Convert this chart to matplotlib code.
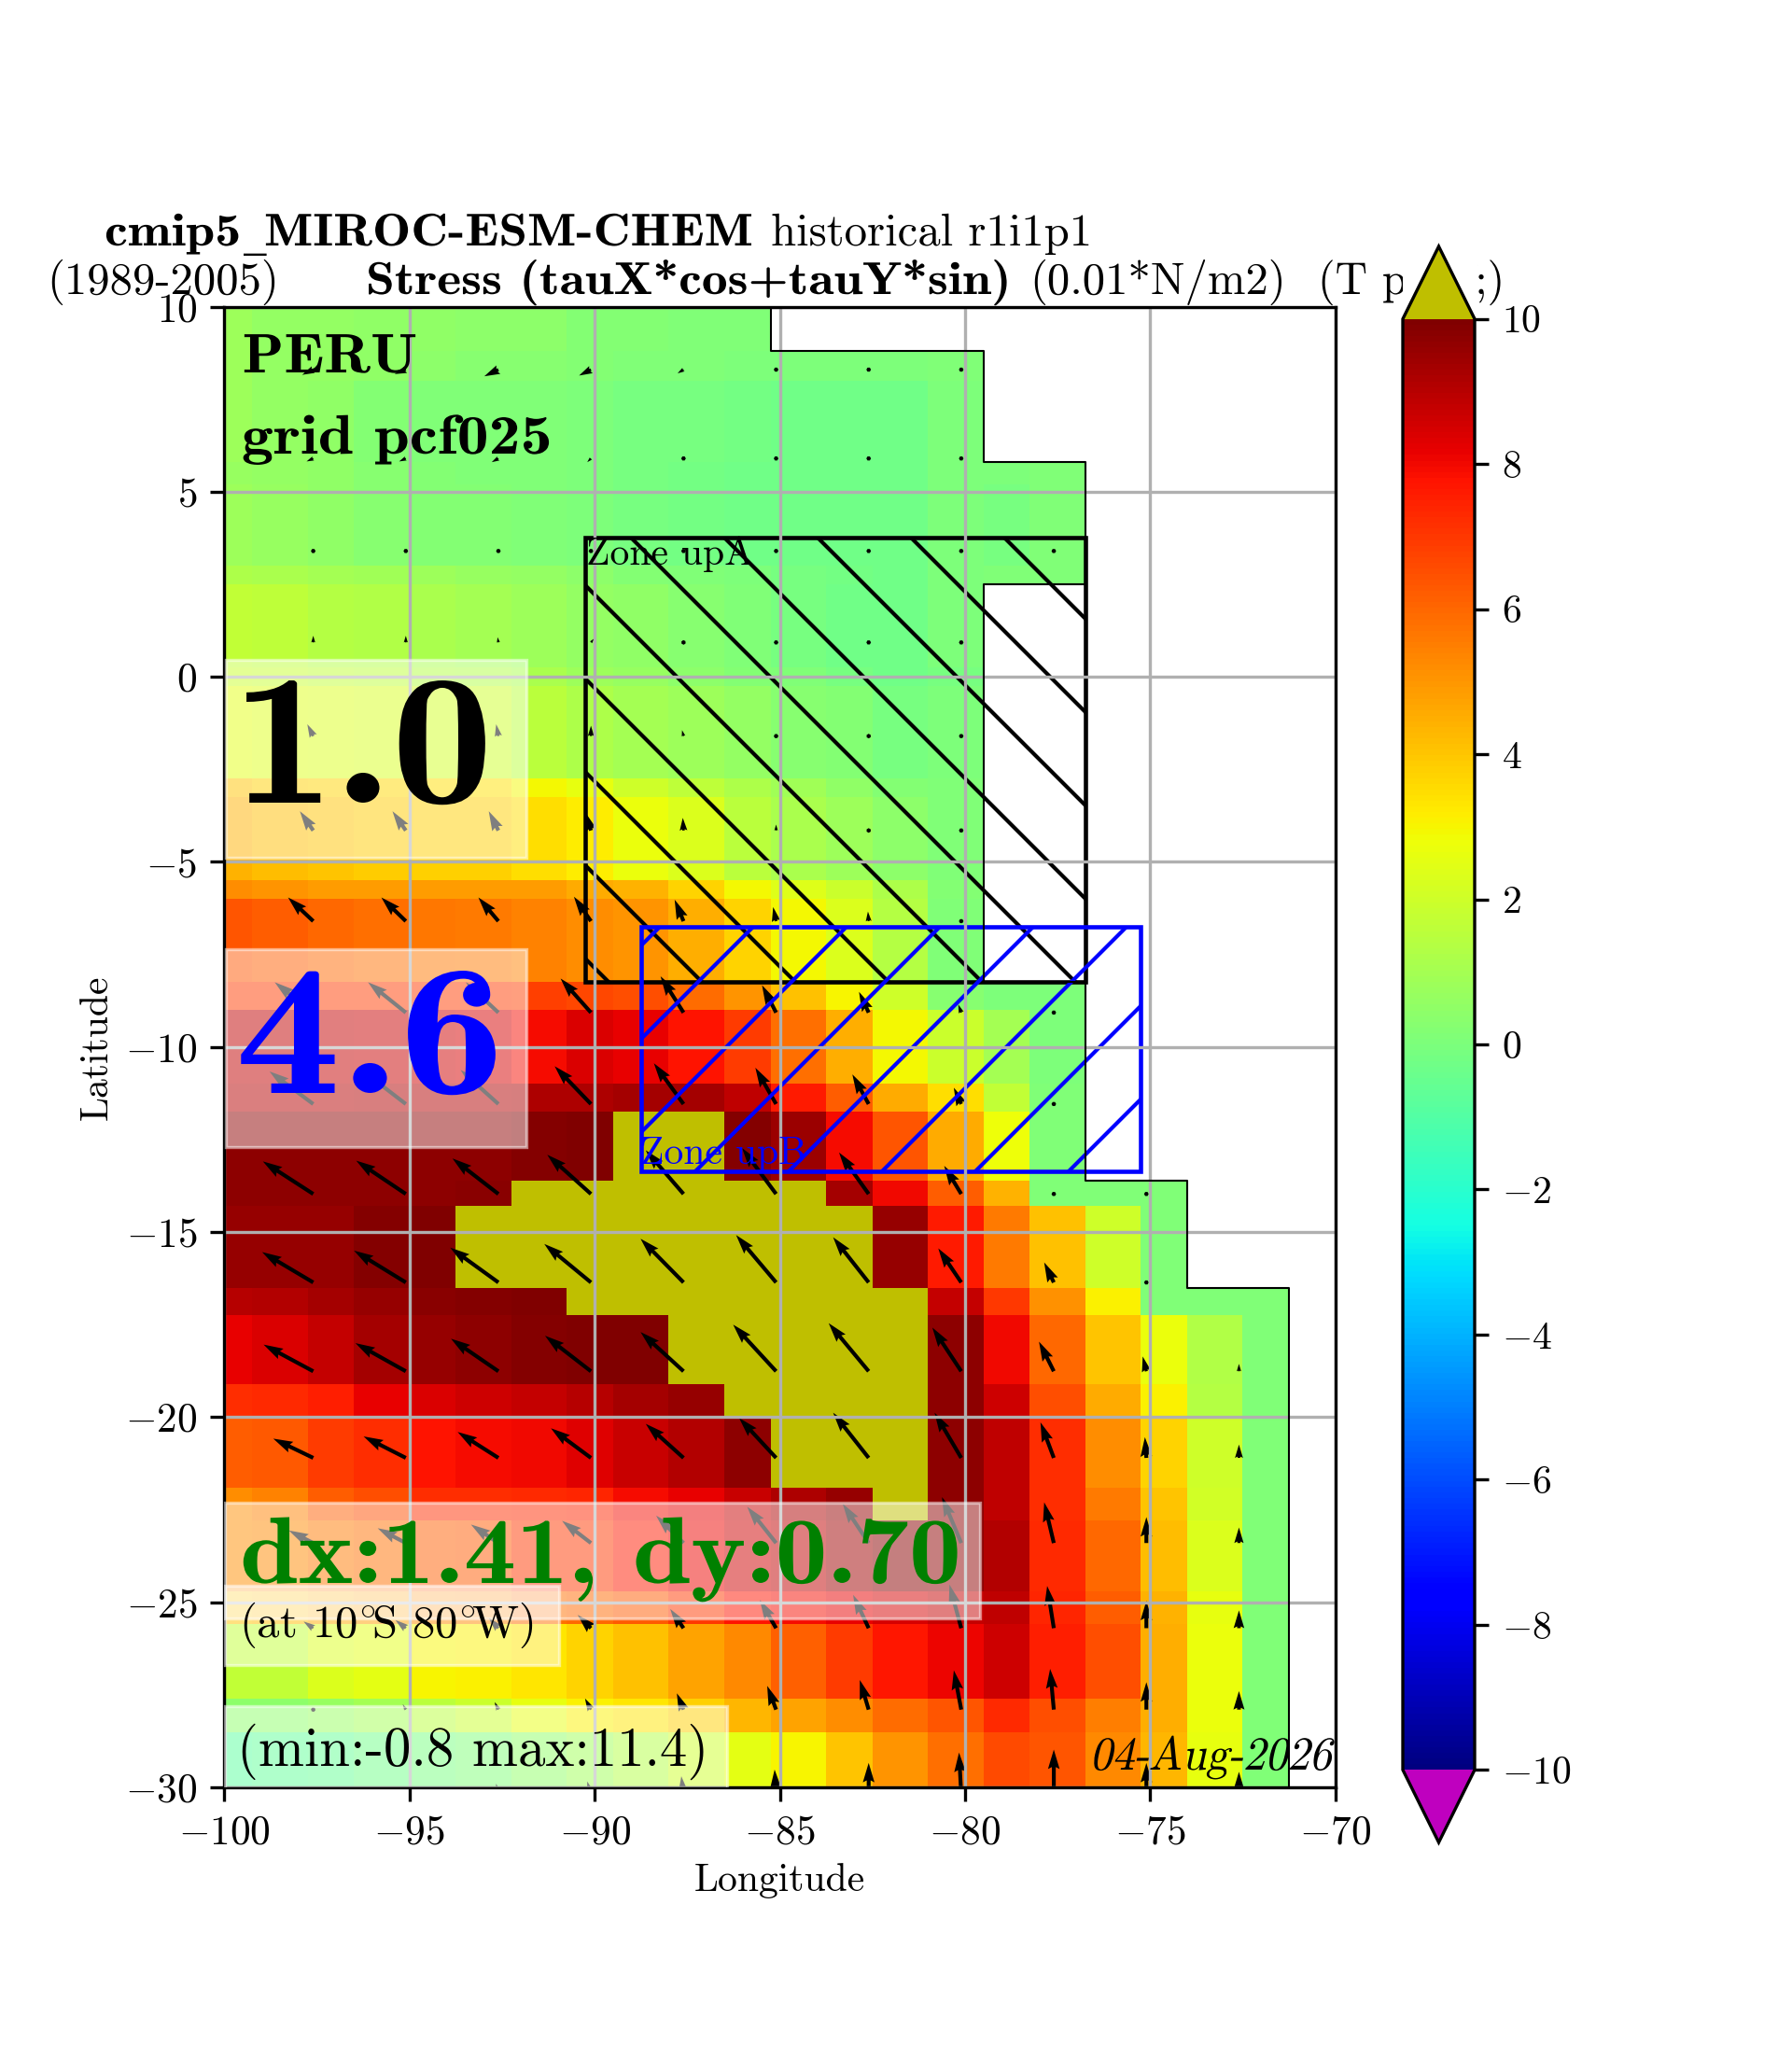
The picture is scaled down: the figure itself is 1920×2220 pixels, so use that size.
import numpy as np
import matplotlib
matplotlib.use('Agg')
import matplotlib.pyplot as plt
from matplotlib.patches import Rectangle
from matplotlib.patheffects import AbstractPathEffect
from matplotlib.transforms import Affine2D

# 600 dpi keeps the hatch spacing at 100 px, so every size is in points at that dpi
plt.rcParams['font.family'] = ['cmr10', 'DejaVu Serif']
plt.rcParams['mathtext.fontset'] = 'cm'
plt.rcParams['axes.formatter.use_mathtext'] = True
plt.rcParams['font.size'] = 5
plt.rcParams['axes.linewidth'] = 0.4
plt.rcParams['grid.linewidth'] = 0.4
plt.rcParams['xtick.major.width'] = 0.4
plt.rcParams['ytick.major.width'] = 0.4
plt.rcParams['xtick.major.size'] = 1.75
plt.rcParams['ytick.major.size'] = 1.75
plt.rcParams['xtick.major.pad'] = 1.75
plt.rcParams['ytick.major.pad'] = 1.75
plt.rcParams['xtick.labelsize'] = 5.2
plt.rcParams['ytick.labelsize'] = 5.2
plt.rcParams['hatch.linewidth'] = 0.5

n = np.nan

lon_edges = [-100, -99.25, -97.75, -96.5, -95, -93.75, -92.25, -90.75, -89.5, -88, -86.5,
             -85.25, -83.75, -82.5, -81, -79.5, -78.25, -76.75, -75.25, -74, -72.5, -71.25]
lat_edges = [10, 8.8, 8, 5.8, 5.2, 3, 2.5, 0.25, -0.25, -2.75, -3.25, -5.5, -6, -8.25, -9, -11,
             -11.75, -13.6, -14.3, -16.5, -17.25, -19.1, -20, -21.9, -22.8, -24.7, -25.6, -27.6,
             -28.5, -30]

# stress, north to south, one row per latitude band
stress = [
    [.8, .6, .6, .5, .5, .4, .4, .2, .2, .1, .1, n, n, n, n, n, n, n, n, n, n],
    [.8, .6, .6, .5, .4, .3, .3, .2, .1, .1, 0, 0, 0, 0, .1, n, n, n, n, n, n],
    [.8, .6, .5, .2, .1, .1, .1, 0, -.1, -.1, -.2, -.3, -.3, -.3, 0, n, n, n, n, n, n],
    [.7, .6, .5, .3, .2, .1, .1, 0, -.1, -.2, -.3, -.3, -.3, -.3, 0, 0, .1, n, n, n, n],
    [.8, .7, .5, .3, .2, .2, .1, 0, -.1, -.2, -.3, -.3, -.3, -.3, 0, -.1, .1, n, n, n, n],
    [1.2, 1.1, 1, .9, .8, .7, .6, .4, .2, .1, 0, -.1, -.2, -.3, 0, .1, .1, n, n, n, n],
    [1.7, 1.6, 1.4, 1.3, 1.1, 1, .8, .6, .5, .3, .1, -.1, -.3, -.3, 0, n, n, n, n, n, n],
    [1.9, 1.8, 1.7, 1.6, 1.4, 1.3, 1.1, .8, .7, .4, .2, .1, -.1, -.3, -.1, n, n, n, n, n, n],
    [2.5, 2.4, 2.3, 2.2, 2.1, 2, 1.5, 1.2, 1, .8, .6, .3, .2, -.1, 0, n, n, n, n, n, n],
    [4, 3.8, 3.7, 3.6, 3.5, 3.4, 2.9, 2.6, 2, 1.6, 1.2, .9, .5, .2, .1, n, n, n, n, n, n],
    [4.4, 4.2, 4, 3.9, 3.8, 3.8, 3.5, 3.2, 2.7, 2.3, 1.5, 1.1, .8, .4, .1, n, n, n, n, n, n],
    [5.2, 5, 4.9, 4.9, 4.9, 4.9, 4.9, 4.6, 4.4, 3.7, 2.9, 2.4, 1.9, 1.2, .2, n, n, n, n, n, n],
    [6.4, 6.2, 6, 5.8, 5.7, 5.6, 5.4, 5.2, 5, 4.5, 3.7, 2.9, 2.3, 1.4, .1, n, n, n, n, n, n],
    [6.9, 6.9, 6.9, 6.9, 6.9, 6.9, 6.8, 6.7, 6.5, 5.9, 5, 4.1, 3, 2, .3, 0, 0, n, n, n, n],
    [8.9, 8.9, 8.8, 8.7, 8.6, 8.5, 7.9, 8.4, 8.2, 7.8, 6.9, 5.8, 4.5, 2.9, 1.9, 1, 0, n, n, n, n],
    [9, 9, 9, 9.1, 9.1, 9.1, 9.2, 9.2, 9.3, 9.3, 8.9, 7.6, 6.2, 4.6, 3.5, 1.7, .1, n, n, n, n],
    [9.7, 9.7, 9.7, 9.7, 9.7, 9.7, 9.9, 10, 10.5, 10.5, 9.9, 9.5, 7.9, 6.4, 4.6, 2.8, .1, n, n, n, n],
    [9.7, 9.7, 9.7, 9.7, 9.7, 9.8, 10.5, 10.5, 10.5, 10.5, 10.5, 10.5, 9.3, 8, 6.2, 4.4, .1, .1, .1, n, n],
    [9.6, 9.6, 9.6, 9.9, 10, 10.5, 10.5, 10.5, 10.5, 10.5, 10.5, 10.5, 10.5, 9.6, 7.6, 5.6, 4.1, 2, .1, n, n],
    [9, 9.1, 9.3, 9.6, 9.8, 9.9, 10, 10.5, 10.5, 10.5, 10.5, 10.5, 10.5, 10.5, 8.8, 7, 5.1, 3.1, .1, .1, .1],
    [8.2, 8.4, 8.8, 9.3, 9.6, 9.7, 9.9, 10, 10, 10.5, 10.5, 10.5, 10.5, 10.5, 9.7, 8, 6, 4, 2.7, 1.3, .1],
    [7.2, 7.3, 7.5, 8.2, 8.4, 8.6, 8.8, 9, 9.3, 9.6, 10.5, 10.5, 10.5, 10.5, 9.7, 8.6, 6.5, 4.6, 3.1, 1.4, .1],
    [6.2, 6.3, 6.9, 7.2, 7.8, 7.9, 8, 8.3, 8.7, 9.1, 9.7, 10.5, 10.5, 10.5, 9.7, 8.9, 7.2, 5.2, 3.7, 2, .1],
    [5.2, 5.4, 6.2, 6.5, 7.2, 7.2, 7.3, 7.4, 7.9, 8.2, 8.7, 9.2, 9.6, 10.5, 9.7, 8.9, 7.2, 5.6, 4, 2.1, .1],
    [5.2, 5.3, 5.6, 5.8, 6.2, 6.3, 7, 7, 7.6, 8.1, 8.6, 8.9, 9.4, 9.8, 9.7, 9.1, 7.3, 6, 4.2, 2.3, .1],
    [4, 4.2, 4.6, 4.8, 5.2, 5.3, 5.8, 6, 6.3, 7, 7.8, 7.9, 8.2, 8.5, 8.8, 8.9, 7.4, 6.2, 4.4, 2.6, .1],
    [1.7, 1.7, 2.3, 2.5, 3, 3.1, 3.3, 3.7, 4.1, 4.7, 5.3, 6.1, 6.9, 7.7, 8.1, 8.6, 7.5, 6.5, 4.5, 2.7, .1],
    [.4, .4, .7, 1, 1.5, 1.9, 2.6, 3.1, 3.3, 3.8, 4.3, 4.7, 5.2, 5.9, 6.4, 7.3, 6.5, 5.5, 4.5, 2.7, .1],
    [-.8, -.7, -.6, -.3, -.1, .1, .5, .9, 1.4, 2, 2.5, 3, 4, 5, 5.8, 6.6, 6.4, 5.3, 4.3, 2.6, .1],
]

# wind stress arrows
arrow_lon = [-97.6, -95.1, -92.6, -90.1, -87.6, -85.1, -82.6, -80.1, -77.6, -75.1, -72.6]
arrow_lat = [8.3, 5.9, 3.4, .93, -1.6, -4.15, -6.6, -9.07, -11.54, -13.97, -16.36, -18.76, -21.1,
             -23.4, -25.7, -27.9, -30.2]
tau_u = [
    [-1.5, -1.5, -1.9, -1.6, -.8, 0, 0, 0, n, n, n],
    [-.9, -.9, -.9, -.5, 0, 0, 0, 0, n, n, n],
    [0, 0, 0, 0, 0, .1, -.2, 0, 0, n, n],
    [0, 0, -.1, .4, .4, .1, -.3, 0, n, n, n],
    [-.8, -.5, -.3, 0, -.2, -.3, -.4, 0, n, n, n],
    [-1.8, -1.8, -1.3, -.8, -.1, 0, 0, 0, n, n, n],
    [-3.4, -3.3, -2.7, -2.3, -1.2, -.4, -.1, 0, n, n, n],
    [-5.2, -5.1, -4.4, -4.1, -3.1, -1.9, -1.3, -.4, 0, n, n],
    [-5.9, -5.7, -5.1, -4.9, -4, -2.8, -2.2, -1, 0, n, n],
    [-6.8, -6.7, -6.2, -5.9, -5.1, -4.6, -4, -2.3, 0, 0, n],
    [-6.9, -7, -6.5, -6.3, -5.8, -5.4, -4.8, -3.1, -1.3, 0, n],
    [-6.7, -6.8, -6.4, -6.2, -5.8, -5.8, -5.4, -3.9, -2, -.5, 0],
    [-5.4, -5.7, -5.5, -5.4, -5.1, -5, -4.8, -3.6, -1.8, -.2, 0],
    [-3.3, -3.8, -3.7, -3.9, -3.7, -3.9, -3.5, -2.6, -1.3, 0, 0],
    [-1.3, -1.4, -1.3, -1.8, -1.8, -2.2, -2.1, -1.6, -.9, 0, 0],
    [-.15, -.4, -.5, -.8, -.9, -1.2, -1.2, -1, -.5, 0, 0],
    [-.1, -.1, -.3, -.5, -.3, -.2, 0, -.3, 0, 0, 0],
]
tau_v = [
    [-.7, -.6, -.9, -.8, -.5, 0, 0, 0, n, n, n],
    [-.4, -.4, -.5, -.5, 0, 0, 0, 0, n, n, n],
    [0, 0, 0, 0, 0, 0, 0, 0, 0, n, n],
    [.9, .9, .7, .5, .3, 0, 0, 0, n, n, n],
    [1.6, 1.6, 1.6, 1.4, .8, .4, .2, 0, n, n, n],
    [2.6, 2.6, 2.6, 2.5, 1.7, .8, .5, 0, n, n, n],
    [3.2, 3.2, 3.2, 3.3, 2.9, 1.9, 1.3, 0, n, n, n],
    [4.1, 4.1, 4.1, 4.6, 4.9, 3.7, 2.8, 1.1, 0, n, n],
    [4.4, 4.4, 4.6, 5.1, 5.5, 4.9, 4, 2.2, 0, n, n],
    [4.4, 4.5, 4.8, 5.3, 5.9, 6.2, 5.6, 3.8, 0, 0, n],
    [4.1, 4.3, 4.7, 5.2, 5.9, 6.4, 6.1, 4.6, 2.7, 0, n],
    [3.6, 3.8, 4.4, 4.8, 5.3, 6.3, 6.5, 5.9, 4, 2, 1],
    [2.6, 2.9, 3.5, 4, 4.6, 5.4, 6.1, 6.1, 4.8, 2.8, 1.8],
    [1.7, 2, 2.5, 3, 3.7, 4.9, 5.3, 6.2, 5.5, 3.5, 2.1],
    [.9, 1.1, 1.4, 1.8, 2.6, 3.8, 4.5, 5.9, 5.7, 3.7, 2.4],
    [.5, .7, 1, 1.5, 2.2, 3.2, 4, 5.3, 5.5, 3.7, 2.5],
    [.3, .5, 1.5, 1.8, 2.5, 3.4, 4.3, 5.7, 6.1, 4.3, 3.1],
]

x_ticks = [-100, -95, -90, -85, -80, -75, -70]
y_ticks = [-30, -25, -20, -15, -10, -5, 0, 5, 10]
cbar_ticks = [-10, -8, -6, -4, -2, 0, 2, 4, 6, 8, 10]

W, H = 1920, 2220
fig = plt.figure(figsize=(3.2, 3.7), dpi=600)


class Warp(AbstractPathEffect):
    # cmb10 is narrower than the wide bold of the original, and there is no slanted roman
    def __init__(self, x0, y0, sx=1.0, shear=0.0):
        super().__init__()
        self.warp = (Affine2D().translate(-x0, -y0)
                     + Affine2D.from_values(sx, 0, shear, 1, 0, 0)
                     + Affine2D().translate(x0, y0))

    def draw_path(self, renderer, gc, tpath, affine, rgbFace=None):
        renderer.draw_path(gc, tpath, affine + self.warp, rgbFace)


def label(x, y, s, size, color='k', family='cmr10', sx=1.0, shear=0.0, ha='left'):
    t = fig.text(x / W, 1 - y / H, s, fontsize=size, color=color, family=family, ha=ha)
    if sx != 1.0 or shear != 0.0:
        t.set_path_effects([Warp(x, H - y, sx, shear)])
    return t


def box(x0, y0, x1, y1):
    return [x0 / W, 1 - y1 / H, (x1 - x0) / W, (y1 - y0) / H]


ax = fig.add_axes(box(240.4, 328.6, 1430.6, 1915))
cmap = plt.get_cmap('jet').copy()
cmap.set_under('m')
cmap.set_over('y')
field = np.ma.masked_invalid(np.array(stress))
mesh = ax.pcolormesh(lon_edges, lat_edges, field, cmap=cmap, vmin=-10, vmax=10)

# coast outline, stepping along the last sea cell of each band
line_x, line_y = [], []
for i in range(len(stress)):
    last = int(np.sum(~np.isnan(stress[i])))
    line_x += [lon_edges[last], lon_edges[last]]
    line_y += [lat_edges[i], lat_edges[i + 1]]
ax.plot(line_x, line_y, color='k', lw=0.25)

gx, gy = np.meshgrid(arrow_lon, arrow_lat)
ax.quiver(gx, gy, np.array(tau_u), np.array(tau_v), angles='xy', scale_units='xy', scale=5,
          width=0.0035, minlength=1.2, color='k')

ax.add_patch(Rectangle((-90.25, -8.25), 13.5, 12, fill=False, edgecolor='k', hatch='\\\\', lw=0.55))
ax.add_patch(Rectangle((-88.75, -13.35), 13.5, 6.6, fill=False, edgecolor='b', hatch='//', lw=0.55))

ax.set_xlim(-100, -70)
ax.set_ylim(-30, 10)
ax.set_xticks(x_ticks)
ax.set_yticks(y_ticks)
ax.grid(True)
ax.set_xlabel('Longitude', labelpad=1.4)
ax.set_ylabel('Latitude', labelpad=1.4)

# pale boxes behind the big numbers: lon, lat, width, height
for bx, by, bw, bh in [(-99.95, -4.88, 8.1, 5.34), (-99.95, -12.7, 8.1, 5.35),
                       (-99.98, -25.43, 20.38, 3.13), (-99.98, -26.7, 9.01, 2.15),
                       (-99.98, -30.05, 13.55, 2.25)]:
    ax.add_patch(Rectangle((bx, by), bw, bh, facecolor='white', edgecolor='white', alpha=0.5,
                           lw=0.4, zorder=4))

label(259.6, 399, 'PERU', 7.15, family='cmb10', sx=1.1)
label(259, 486, 'grid pcf025', 7.15, family='cmb10', sx=1.14)
label(628, 604.6, 'Zone upA', 5)
label(686, 1247, 'Zone upB', 5, color='b')
label(249, 860, '1.0', 24, family='cmb10', sx=1.095)
label(252, 1171, '4.6', 24, family='cmb10', color='b', sx=1.13)
label(257, 1696, 'dx:1.41, dy:0.70', 12.2, color='g', family='cmb10', sx=1.105)
label(256, 1753.6, r'(at 10$^{\circ}\!$S 80$^{\circ}\!$W)', 5.85)
label(254, 1892, '(min:-0.8 max:11.4)', 7.07)
label(1426, 1896, '04-Aug-2026', 6.1, ha='right', sx=0.93, shear=0.22)

label(112, 263, 'cmip5', 5.9, family='cmb10', sx=1.14)
label(261, 263, '_', 5.9, family='DejaVu Serif')
label(283, 263, 'MIROC-ESM-CHEM', 5.9, family='cmb10', sx=1.12)
label(826, 263, 'historical r1i1p1', 5.85)
label(50, 315, '(1989-2005)', 5.85)
label(392, 315, 'Stress (tauX*cos+tauY*sin)', 5.9, family='cmb10', sx=1.13)
label(1103, 315, '(0.01*N/m2)', 5.85)
label(1412, 315, '(T pacif;)', 5.85, sx=0.98)

# the colour bar's white background hides the middle of the title
fig.add_artist(Rectangle((1503 / W, 1 - 344 / H), 80 / W, 80 / H, transform=fig.transFigure,
                         facecolor='white', edgecolor='none', zorder=5))

cax = fig.add_axes(box(1503, 264, 1580, 1974))
cbar = fig.colorbar(mesh, cax=cax, extend='both', ticks=cbar_ticks)
cbar.outline.set_linewidth(0.4)
cbar.ax.tick_params(width=0.4, labelsize=5)
cax.set_zorder(10)

fig.savefig('out.png', dpi=600)
